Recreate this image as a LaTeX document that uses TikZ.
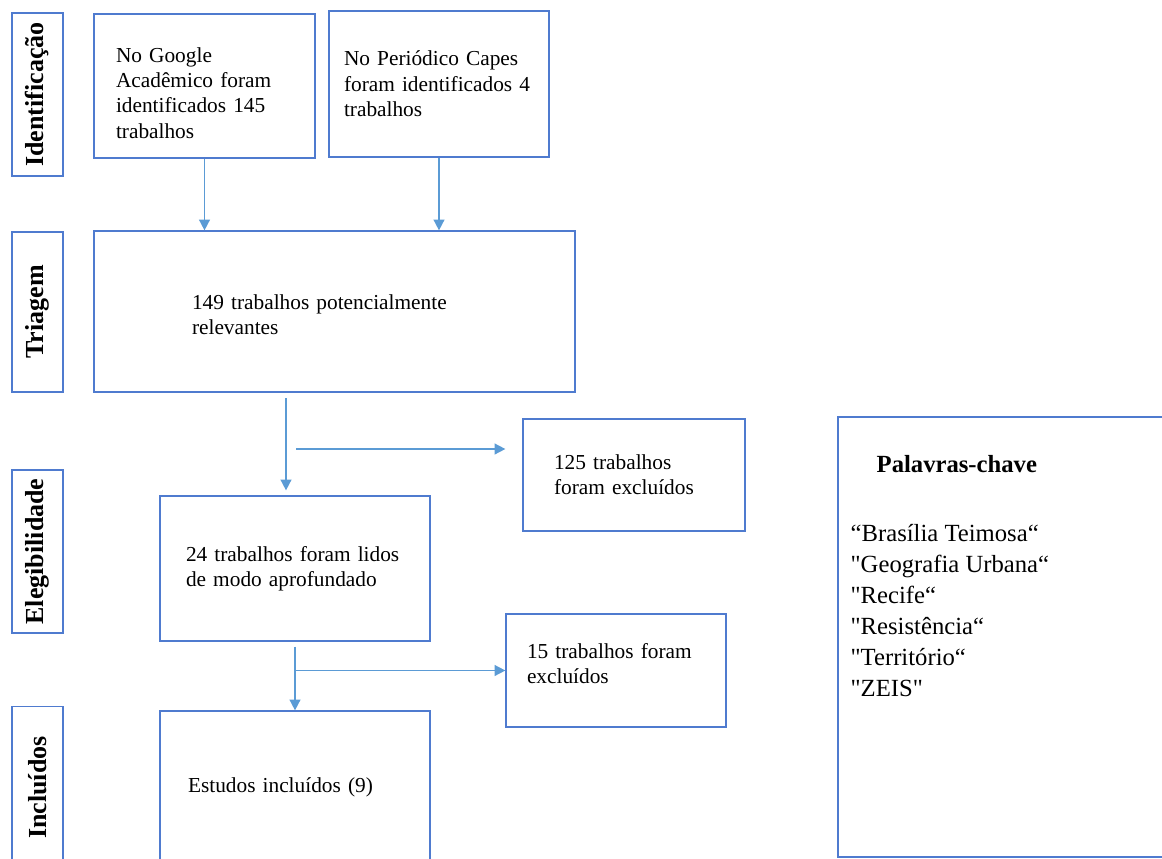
\documentclass[tikz,border=0pt]{standalone}
\usepackage{fontspec}
\setmainfont{Liberation Serif}[Ligatures=TeXOff]
\usetikzlibrary{arrows.meta,positioning,calc}
\definecolor{boxblue}{HTML}{4F7BCF}
\definecolor{arrowblue}{HTML}{5B9BD5}

\begin{document}
\begin{tikzpicture}[x=0.75pt, y=-0.75pt,
    every node/.style={font=\fontsize{16}{19}\selectfont},
    caixa/.style={draw=boxblue, line width=0.9pt, align=left, inner ysep=0pt},
    fase/.style={draw=boxblue, line width=0.9pt, rotate=90, minimum height=38.25pt, inner sep=0pt, font=\fontsize{19.5}{22}\selectfont\bfseries},
    seta/.style={draw=arrowblue, line width=1.2pt, -{Triangle[length=8pt,width=8pt]}}]
      \useasboundingbox (0,0) rectangle (1162,859);
      \clip (0,0) rectangle (1162,859);

      % FASES
      \node[fase, minimum width=122.25pt] (f1) at (37.5,94.5) {Identificação};
      \node[fase, minimum width=120pt] (f2) at (37.5,312) {Triagem};
      \node[fase, minimum width=122.25pt] (f3) at (37.5,551.5) {Elegibilidade};
      \node[fase, minimum width=121.5pt] (f4) at (37.5,787.5) {Incluídos};

      % IDENTIFICACAO
      \node[caixa, minimum width=165.75pt, minimum height=108pt, inner xsep=16.5pt, text width=132.75pt] (g) at (204.5,86) {\rule{0pt}{21.5pt}No Google\\Acadêmico foram\\identificados 145\\trabalhos};
      \node[caixa, minimum width=165pt, minimum height=109.5pt, inner xsep=11.25pt, text width=142.5pt] (c) at (439,84) {No Periódico Capes\\foram identificados 4\\trabalhos};

      % TRIAGEM
      \node[caixa, minimum width=360.75pt, minimum height=120.75pt, inner xsep=73.5pt, text width=213.75pt] (t) at (334.5,311.5) {\rule{0pt}{15.5pt}149 trabalhos potencialmente\\relevantes};
      \node[caixa, minimum width=166.5pt, minimum height=84pt, inner xsep=23.25pt, text width=120pt] (e1) at (634,475) {125 trabalhos\\foram excluídos};

      % ELEGIBILIDADE
      \node[caixa, minimum width=202.5pt, minimum height=108.75pt, inner xsep=19.5pt, text width=163.5pt] (l) at (295,568.5) {24 trabalhos foram lidos\\de modo aprofundado};
      \node[caixa, minimum width=165pt, minimum height=84.75pt, inner xsep=15.75pt, text width=133.5pt] (e2) at (616,670.5) {15 trabalhos foram\\excluídos\rule[-11pt]{0pt}{0pt}};

      % INCLUIDOS
      \node[caixa, minimum width=202.5pt, minimum height=114.75pt, inner xsep=21pt, text width=160.5pt] (i) at (295,787.5) {Estudos incluídos (9)};

      % PALAVRAS-CHAVE
      \node[caixa, minimum width=252.75pt, minimum height=330pt] (k) at (1006.5,637) {};
      \node[anchor=north west, align=left, inner sep=0pt, font=\fontsize{18.5}{23.25}\selectfont] (kw) at ([shift={(13,38.5)}]k.north west) {\hspace*{19.5pt}\textbf{Palavras-chave}\\[28.5pt]“Brasília Teimosa“\\"Geografia Urbana“\\"Recife“\\"Resistência“\\"Território“\\"ZEIS"};

      % SETAS
      \draw[seta] (g.south) -- (g.south |- t.north);
      \draw[seta] (c.south) -- (c.south |- t.north);
      \coordinate (s1) at (286,398);
      \coordinate (s2) at (296,449);
      \draw[seta, shorten >=3.75pt] (s1) -- (s1 |- l.north);
      \draw[seta, shorten >=12.75pt] (s2) -- (s2 -| e1.west);
      \draw[seta] ([yshift=-3.75pt]l.south) -- (i.north);
      \draw[seta] (l.south |- e2.west) -- (e2.west);
    \end{tikzpicture}
\end{document}
